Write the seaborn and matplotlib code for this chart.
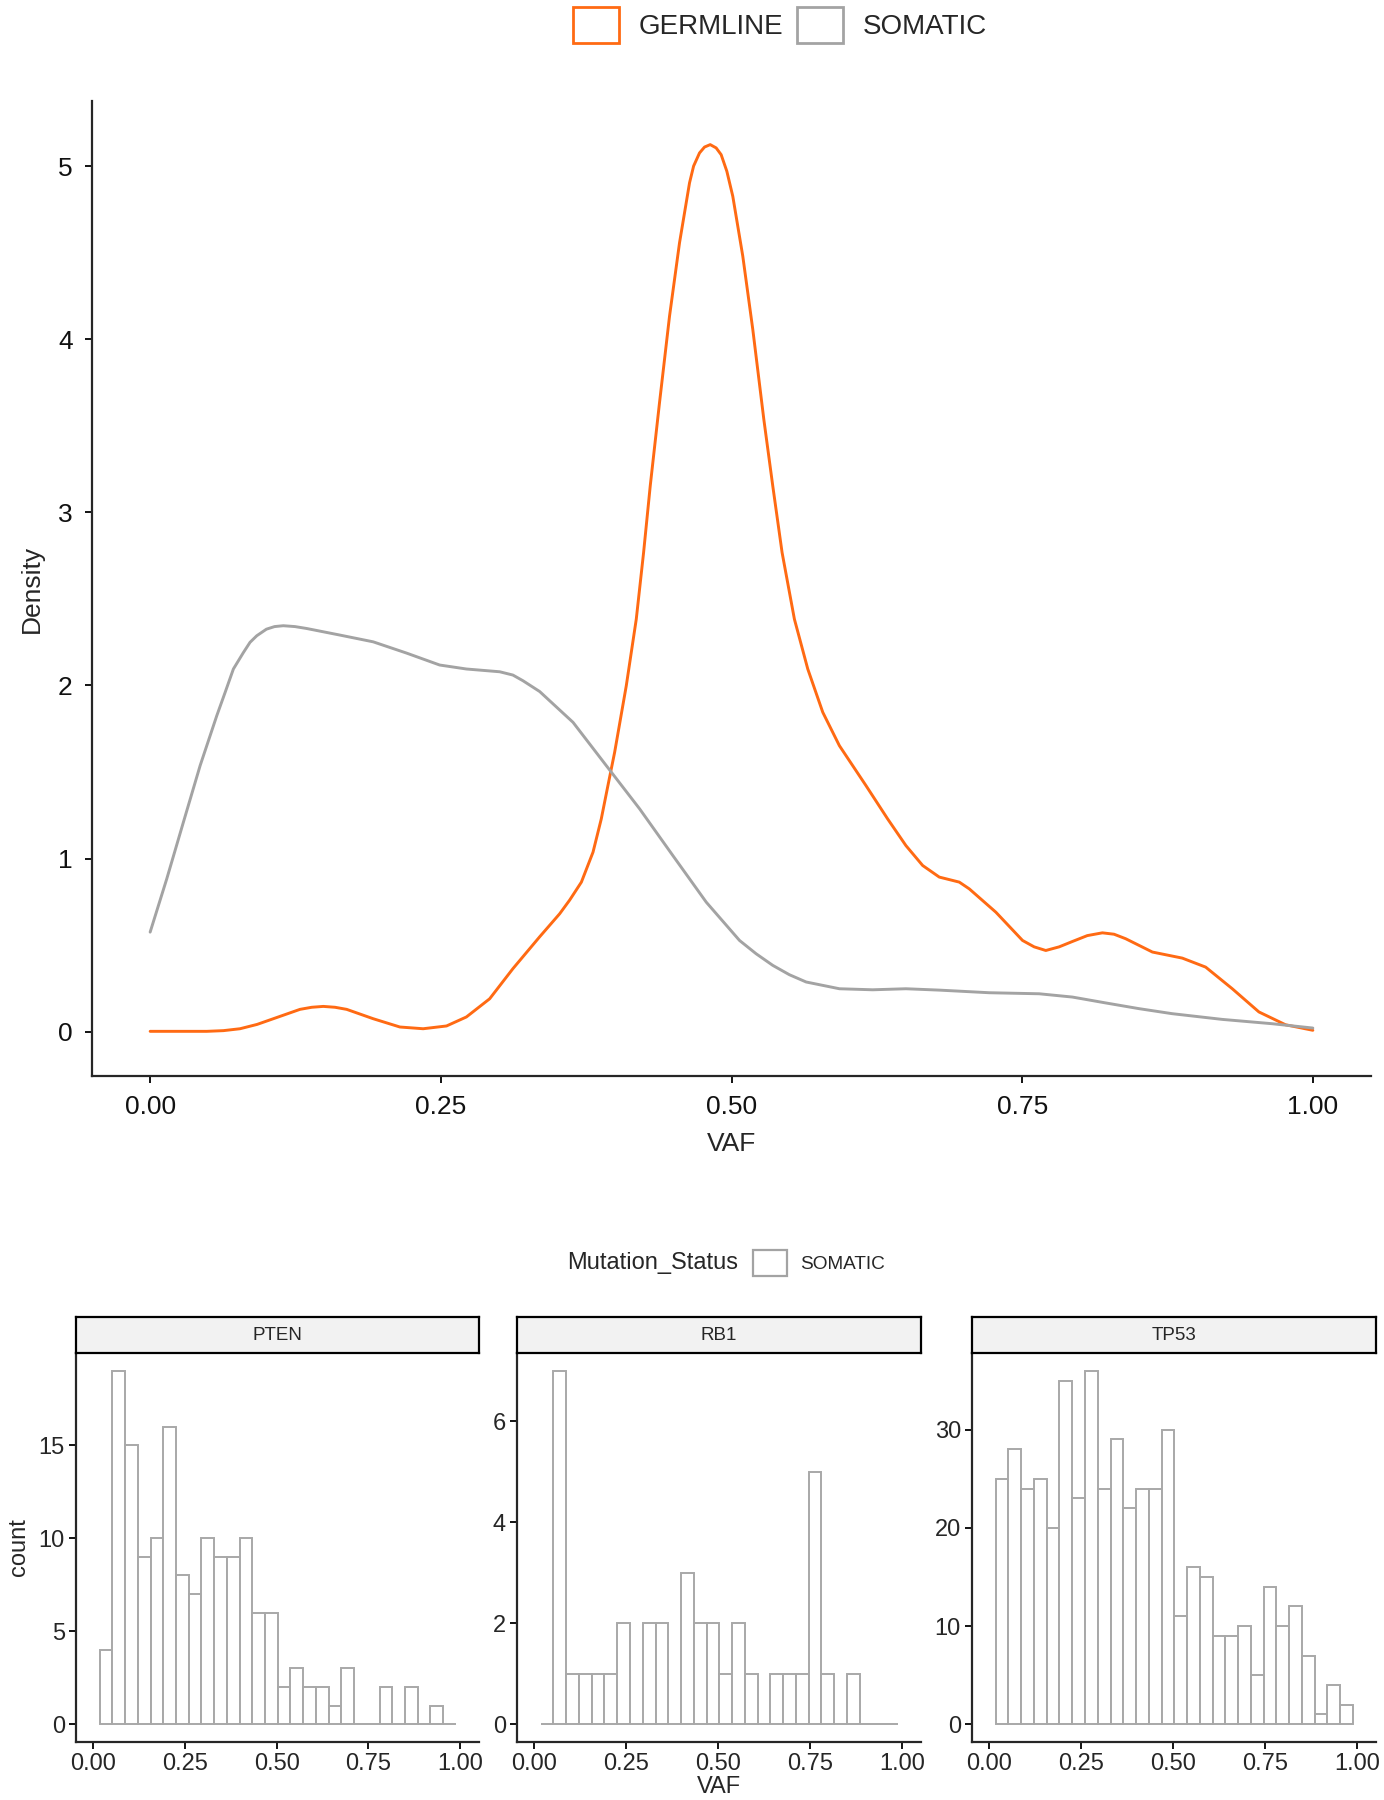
import numpy as np
import pandas as pd
import matplotlib
matplotlib.use("Agg")
import matplotlib.pyplot as plt
from matplotlib.patches import Patch
import seaborn as sns

sns.set_style("ticks")
plt.rcParams['font.family'] = ['Liberation Sans', 'DejaVu Sans']

# ---------------- data ----------------
# density curves (VAF, density)
somatic_vaf = [0.0, 0.0143, 0.0286, 0.043, 0.0573, 0.0645, 0.0716, 0.0802, 0.0859, 0.0917,
               0.100, 0.107, 0.1145, 0.1246, 0.1346, 0.1632, 0.1918, 0.2205, 0.249, 0.272,
               0.3007, 0.312, 0.3207, 0.335, 0.3637, 0.3923, 0.421, 0.4496, 0.4783, 0.5069,
               0.5212, 0.5355, 0.5498, 0.5642, 0.5928, 0.6214, 0.650, 0.679, 0.7216, 0.7646,
               0.7932, 0.8219, 0.8505, 0.879, 0.922, 0.965, 1.0]
somatic_dens = [0.575, 0.883, 1.21, 1.537, 1.825, 1.96, 2.095, 2.19, 2.249, 2.287,
                2.325, 2.340, 2.345, 2.340, 2.329, 2.291, 2.252, 2.187, 2.118, 2.095,
                2.079, 2.06, 2.027, 1.965, 1.787, 1.537, 1.287, 1.017, 0.748, 0.527,
                0.45, 0.383, 0.329, 0.287, 0.248, 0.242, 0.248, 0.240, 0.225, 0.219,
                0.200, 0.166, 0.133, 0.104, 0.071, 0.046, 0.021]

germline_vaf = [0.0, 0.0487, 0.063, 0.0773, 0.092, 0.106, 0.1289, 0.139, 0.1489, 0.159,
                0.169, 0.1918, 0.2148, 0.2348, 0.2549, 0.272, 0.292, 0.312, 0.335, 0.3522,
                0.3608, 0.3709, 0.3809, 0.388, 0.3937, 0.3995, 0.4095, 0.4181, 0.4244, 0.4301,
                0.4381, 0.4467, 0.4553, 0.4639, 0.4674, 0.4725, 0.4768, 0.4817, 0.4868, 0.4911,
                0.496, 0.5011, 0.5097, 0.5183, 0.5278, 0.5355, 0.5435, 0.5541, 0.5656, 0.5785,
                0.5928, 0.6157, 0.6343, 0.650, 0.6644, 0.6787, 0.6959, 0.7045, 0.7274, 0.7503,
                0.7603, 0.7703, 0.7818, 0.7932, 0.806, 0.819, 0.829, 0.839, 0.862, 0.8877,
                0.9078, 0.9307, 0.9536, 0.9765, 1.0]
germline_dens = [0.002, 0.002, 0.006, 0.017, 0.042, 0.075, 0.129, 0.141, 0.146, 0.141,
                 0.129, 0.075, 0.027, 0.017, 0.033, 0.085, 0.19, 0.364, 0.548, 0.681,
                 0.76, 0.864, 1.037, 1.229, 1.421, 1.614, 1.998, 2.383, 2.768, 3.152,
                 3.634, 4.133, 4.557, 4.903, 5.0, 5.076, 5.11, 5.124, 5.105, 5.066,
                 4.97, 4.826, 4.48, 4.057, 3.537, 3.152, 2.768, 2.383, 2.095, 1.845,
                 1.652, 1.421, 1.229, 1.075, 0.96, 0.893, 0.864, 0.825, 0.69, 0.527,
                 0.49, 0.469, 0.49, 0.521, 0.555, 0.571, 0.563, 0.537, 0.46, 0.425,
                 0.373, 0.248, 0.114, 0.04, 0.008]

# histogram counts per gene (28 bins, shared binning)
genes = ["PTEN", "RB1", "TP53"]
pten_counts = [4, 19, 15, 9, 10, 16, 8, 7, 10, 9, 9, 10, 6, 6, 2, 3, 2, 2, 1, 3, 0, 0, 2, 0, 2, 0, 1, 0]
rb1_counts = [0, 7, 1, 1, 1, 1, 2, 0, 2, 2, 0, 3, 2, 2, 1, 2, 1, 0, 1, 1, 1, 5, 1, 0, 1, 0, 0, 0]
tp53_counts = [25, 28, 24, 25, 20, 35, 23, 36, 24, 29, 22, 24, 24, 30, 11, 16, 15, 9, 9, 10,
               5, 14, 10, 12, 7, 1, 4, 2]
gene_yticks = {"PTEN": [0, 5, 10, 15], "RB1": [0, 2, 4, 6], "TP53": [0, 10, 20, 30]}
vaf_ticks = [0.0, 0.25, 0.5, 0.75, 1.0]
vaf_labels = ["0.00", "0.25", "0.50", "0.75", "1.00"]

bin_lo, bin_hi, n_bins = 0.0175, 0.989, 28

ORANGE = "#FF6A13"
GREY = "#A3A3A3"
HIST_EDGE = "#A8A8A8"

dens_df = pd.concat([
    pd.DataFrame({"VAF": germline_vaf, "Density": germline_dens, "Mutation_Status": "GERMLINE"}),
    pd.DataFrame({"VAF": somatic_vaf, "Density": somatic_dens, "Mutation_Status": "SOMATIC"}),
])

edges = [float(e) for e in np.linspace(bin_lo, bin_hi, n_bins + 1)]
centers = [(a + b) / 2 for a, b in zip(edges[:-1], edges[1:])]
hist_df = pd.concat([
    pd.DataFrame({"gene": g, "VAF": centers, "count": c})
    for g, c in zip(genes, [pten_counts, rb1_counts, tp53_counts])
])

W, H = 1384, 1800
fig = plt.figure(figsize=(W / 100, H / 100), dpi=100)


def fbox(x0, y0, x1, y1):
    # pixel box -> figure fraction
    return [x0 / W, 1 - y1 / H, (x1 - x0) / W, (y1 - y0) / H]


# ---------------- top: density plot ----------------
ax = fig.add_axes(fbox(92, 101, 1371, 1076))
sns.lineplot(data=dens_df, x="VAF", y="Density", hue="Mutation_Status",
             palette={"GERMLINE": ORANGE, "SOMATIC": GREY}, estimator=None,
             sort=False, linewidth=2.1, legend=False, ax=ax)
for ln in ax.lines:
    ln.set_solid_joinstyle("round")
ax.set_xlim(-0.05, 1.05)
ax.set_ylim(-0.256, 5.376)
ax.set_xticks(vaf_ticks)
ax.set_xticklabels(vaf_labels)
ax.set_yticks([0, 1, 2, 3, 4, 5])
ax.tick_params(labelsize=19, length=5, width=1.3, pad=9, color="black", labelcolor="#111111")
sns.despine(ax=ax)
for s in ["left", "bottom"]:
    ax.spines[s].set_linewidth(1.6)
ax.set_xlabel("VAF", fontsize=19, va="center")
ax.xaxis.set_label_coords(0.5, (1076 - 1144) / 975)
ax.set_ylabel("Density", fontsize=19, va="center")
ax.yaxis.set_label_coords((32 - 92) / 1279, 0.5)

top_handles = [Patch(facecolor="white", edgecolor=ORANGE, linewidth=2),
               Patch(facecolor="white", edgecolor=GREY, linewidth=2)]
fig.legend(top_handles, ["GERMLINE", "SOMATIC"], ncol=2, loc="center",
           bbox_to_anchor=(780 / W, 1 - 25 / H), frameon=False, fontsize=20,
           handlelength=1.65, handleheight=1.65, handletextpad=0.7, columnspacing=0.5,
           borderpad=0)

# ---------------- bottom: faceted histograms ----------------
panels = {"PTEN": (76, 479), "RB1": (517, 921), "TP53": (972, 1376)}
ylims = {"PTEN": (-0.95, 19.95), "RB1": (-0.35, 7.35), "TP53": (-1.8, 37.8)}
p_top, p_bot, strip_top = 1353, 1742, 1317

for g in genes:
    x0, x1 = panels[g]
    axh = fig.add_axes(fbox(x0, p_top, x1, p_bot))
    sub = hist_df[hist_df["gene"] == g]
    sns.histplot(data=sub, x="VAF", weights="count", bins=edges, ax=axh,
                 color="white", edgecolor=HIST_EDGE, linewidth=1.4, alpha=1)
    axh.set_xlim(-0.047, 1.052)
    axh.set_ylim(*ylims[g])
    axh.set_xticks(vaf_ticks)
    axh.set_xticklabels(vaf_labels)
    axh.set_yticks(gene_yticks[g])
    axh.tick_params(labelsize=17, length=5, width=1.3, pad=3, color="black")
    sns.despine(ax=axh)
    for s in ["left", "bottom"]:
        axh.spines[s].set_linewidth(1.6)
    axh.set_xlabel("")
    axh.set_ylabel("")
    if g == "PTEN":
        axh.set_ylabel("count", fontsize=17, va="center")
        axh.yaxis.set_label_coords((19 - x0) / (x1 - x0), 0.5)
    if g == "RB1":
        axh.set_xlabel("VAF", fontsize=17, va="center")
        axh.xaxis.set_label_coords(0.5, (p_bot - 1787) / (p_bot - p_top))

    # facet strip
    sax = fig.add_axes(fbox(x0, strip_top, x1, p_top))
    sax.set_xticks([])
    sax.set_yticks([])
    sax.set_facecolor("#F2F2F2")
    for s in sax.spines.values():
        s.set_linewidth(1.6)
        s.set_color("black")
    sax.text(0.5, 0.5, g, ha="center", va="center", fontsize=13.5, transform=sax.transAxes)

fig.text(738 / W, 1 - 1263 / H, "Mutation_Status", ha="right", va="center", fontsize=17)
fig.legend([Patch(facecolor="white", edgecolor=GREY, linewidth=1.6)], ["SOMATIC"],
           loc="center left", bbox_to_anchor=(753 / W, 1 - 1263 / H), frameon=False,
           fontsize=13.7, handlelength=1.79, handleheight=1.68, handletextpad=0.68,
           borderpad=0, borderaxespad=0)

fig.savefig("out.png", dpi=100)
